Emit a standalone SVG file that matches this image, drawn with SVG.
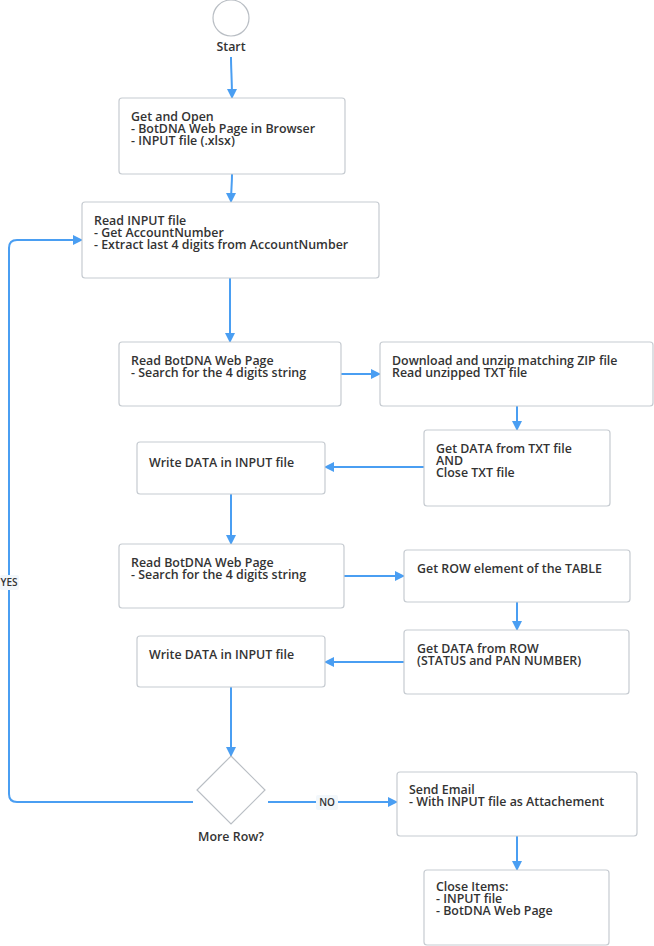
<svg xmlns="http://www.w3.org/2000/svg" width="654" height="946" viewBox="0 0 654 946">
<defs>
<style>
.box{fill:#fff;stroke:#c6cbd1;stroke-width:1.2}
.t{font-family:"Open Sans","Noto Sans","DejaVu Sans",sans-serif;font-size:12.4px;font-weight:600;fill:#333}
.c{fill:none;stroke:#4a9ef2;stroke-width:2}
.lbl{fill:#f2f7fb}
.lt{font-family:"Open Sans","Noto Sans","DejaVu Sans",sans-serif;font-size:10px;font-weight:600;fill:#333;text-anchor:middle}
</style>
<marker id="ah" markerWidth="10" markerHeight="10" refX="9" refY="5" orient="auto" markerUnits="userSpaceOnUse">
<path d="M0,0 L10,5 L0,10 Z" fill="#4a9ef2"/>
</marker>
</defs>
<rect width="654" height="946" fill="#fff"/>

<g id="connectors">
<path class="c" d="M231,57 C231,70 232,78 232,98" marker-end="url(#ah)"/>
<path class="c" d="M232,174 C232,185 231,190 231,202" marker-end="url(#ah)"/>
<path class="c" d="M230,278 L230,342" marker-end="url(#ah)"/>
<path class="c" d="M341,374 L380,374" marker-end="url(#ah)"/>
<path class="c" d="M517,406 L517,430" marker-end="url(#ah)"/>
<path class="c" d="M424,467 L325,467" marker-end="url(#ah)"/>
<path class="c" d="M231,494 L231,544" marker-end="url(#ah)"/>
<path class="c" d="M344,576 L404,576" marker-end="url(#ah)"/>
<path class="c" d="M517,602 L517,630" marker-end="url(#ah)"/>
<path class="c" d="M404,662 L325,662" marker-end="url(#ah)"/>
<path class="c" d="M231,687 L231,756" marker-end="url(#ah)"/>
<path class="c" d="M193,802 L17,802 Q9,802 9,794 L9,248 Q9,240 17,240 L82,240" marker-end="url(#ah)"/>
<path class="c" d="M268,802 L397,802" marker-end="url(#ah)"/>
<path class="c" d="M517,836 L517,870" marker-end="url(#ah)"/>
<rect class="lbl" x="0" y="575" width="19" height="15" rx="2"/>
<text class="lt" x="9" y="586">YES</text>
<rect class="lbl" x="316" y="795" width="22" height="15" rx="2"/>
<text class="lt" x="327" y="806">NO</text>
</g>

<g id="start">
<circle cx="231" cy="18" r="18" fill="#fff" stroke="#b9bec4" stroke-width="1.2"/>
<text class="t" x="231" y="51" text-anchor="middle">Start</text>
</g>

<g id="get-open">
<rect class="box" x="119" y="98" width="226" height="76" rx="3"/>
<text class="t" x="131" y="121"><tspan x="131" y="121">Get and Open</tspan><tspan x="131" y="133">- BotDNA Web Page in Browser</tspan><tspan x="131" y="145">- INPUT file (.xlsx)</tspan></text>
</g>

<g id="read-input">
<rect class="box" x="82" y="202" width="297" height="76" rx="3"/>
<text class="t" x="94" y="225"><tspan x="94" y="225">Read INPUT file</tspan><tspan x="94" y="237">- Get AccountNumber</tspan><tspan x="94" y="249">- Extract last 4 digits from AccountNumber</tspan></text>
</g>

<g id="read-web-1">
<rect class="box" x="119" y="342" width="222" height="64" rx="3"/>
<text class="t" x="131" y="365"><tspan x="131" y="365">Read BotDNA Web Page</tspan><tspan x="131" y="377">- Search for the 4 digits string</tspan></text>
</g>

<g id="download">
<rect class="box" x="380" y="342" width="273" height="64" rx="3"/>
<text class="t" x="392" y="365"><tspan x="392" y="365">Download and unzip matching ZIP file</tspan><tspan x="392" y="377">Read unzipped TXT file</tspan></text>
</g>

<g id="get-data-txt">
<rect class="box" x="424" y="430" width="186" height="76" rx="3"/>
<text class="t" x="436" y="453"><tspan x="436" y="453">Get DATA from TXT file</tspan><tspan x="436" y="465">AND</tspan><tspan x="436" y="477">Close TXT file</tspan></text>
</g>

<g id="write-data-1">
<rect class="box" x="137" y="442" width="188" height="52" rx="3"/>
<text class="t" x="149" y="467">Write DATA in INPUT file</text>
</g>

<g id="read-web-2">
<rect class="box" x="119" y="544" width="225" height="64" rx="3"/>
<text class="t" x="131" y="567"><tspan x="131" y="567">Read BotDNA Web Page</tspan><tspan x="131" y="579">- Search for the 4 digits string</tspan></text>
</g>

<g id="get-row">
<rect class="box" x="404" y="550" width="226" height="52" rx="3"/>
<text class="t" x="417" y="573">Get ROW element of the TABLE</text>
</g>

<g id="get-data-row">
<rect class="box" x="404" y="630" width="225" height="64" rx="3"/>
<text class="t" x="417" y="653"><tspan x="417" y="653">Get DATA from ROW</tspan><tspan x="417" y="665">(STATUS and PAN NUMBER)</tspan></text>
</g>

<g id="write-data-2">
<rect class="box" x="137" y="636" width="188" height="51" rx="3"/>
<text class="t" x="149" y="659">Write DATA in INPUT file</text>
</g>

<g id="more-row">
<path d="M231,756 L265,790 L231,824 L197,790 Z" fill="#fff" stroke="#b9bec4" stroke-width="1.2"/>
<text class="t" x="231" y="841" text-anchor="middle">More Row?</text>
</g>

<g id="send-email">
<rect class="box" x="397" y="772" width="240" height="64" rx="3"/>
<text class="t" x="409" y="794"><tspan x="409" y="794">Send Email</tspan><tspan x="409" y="806">- With INPUT file as Attachement</tspan></text>
</g>

<g id="close-items">
<rect class="box" x="424" y="870" width="185" height="75" rx="3"/>
<text class="t" x="436" y="891"><tspan x="436" y="891">Close Items:</tspan><tspan x="436" y="903">- INPUT file</tspan><tspan x="436" y="915">- BotDNA Web Page</tspan></text>
</g>
</svg>
